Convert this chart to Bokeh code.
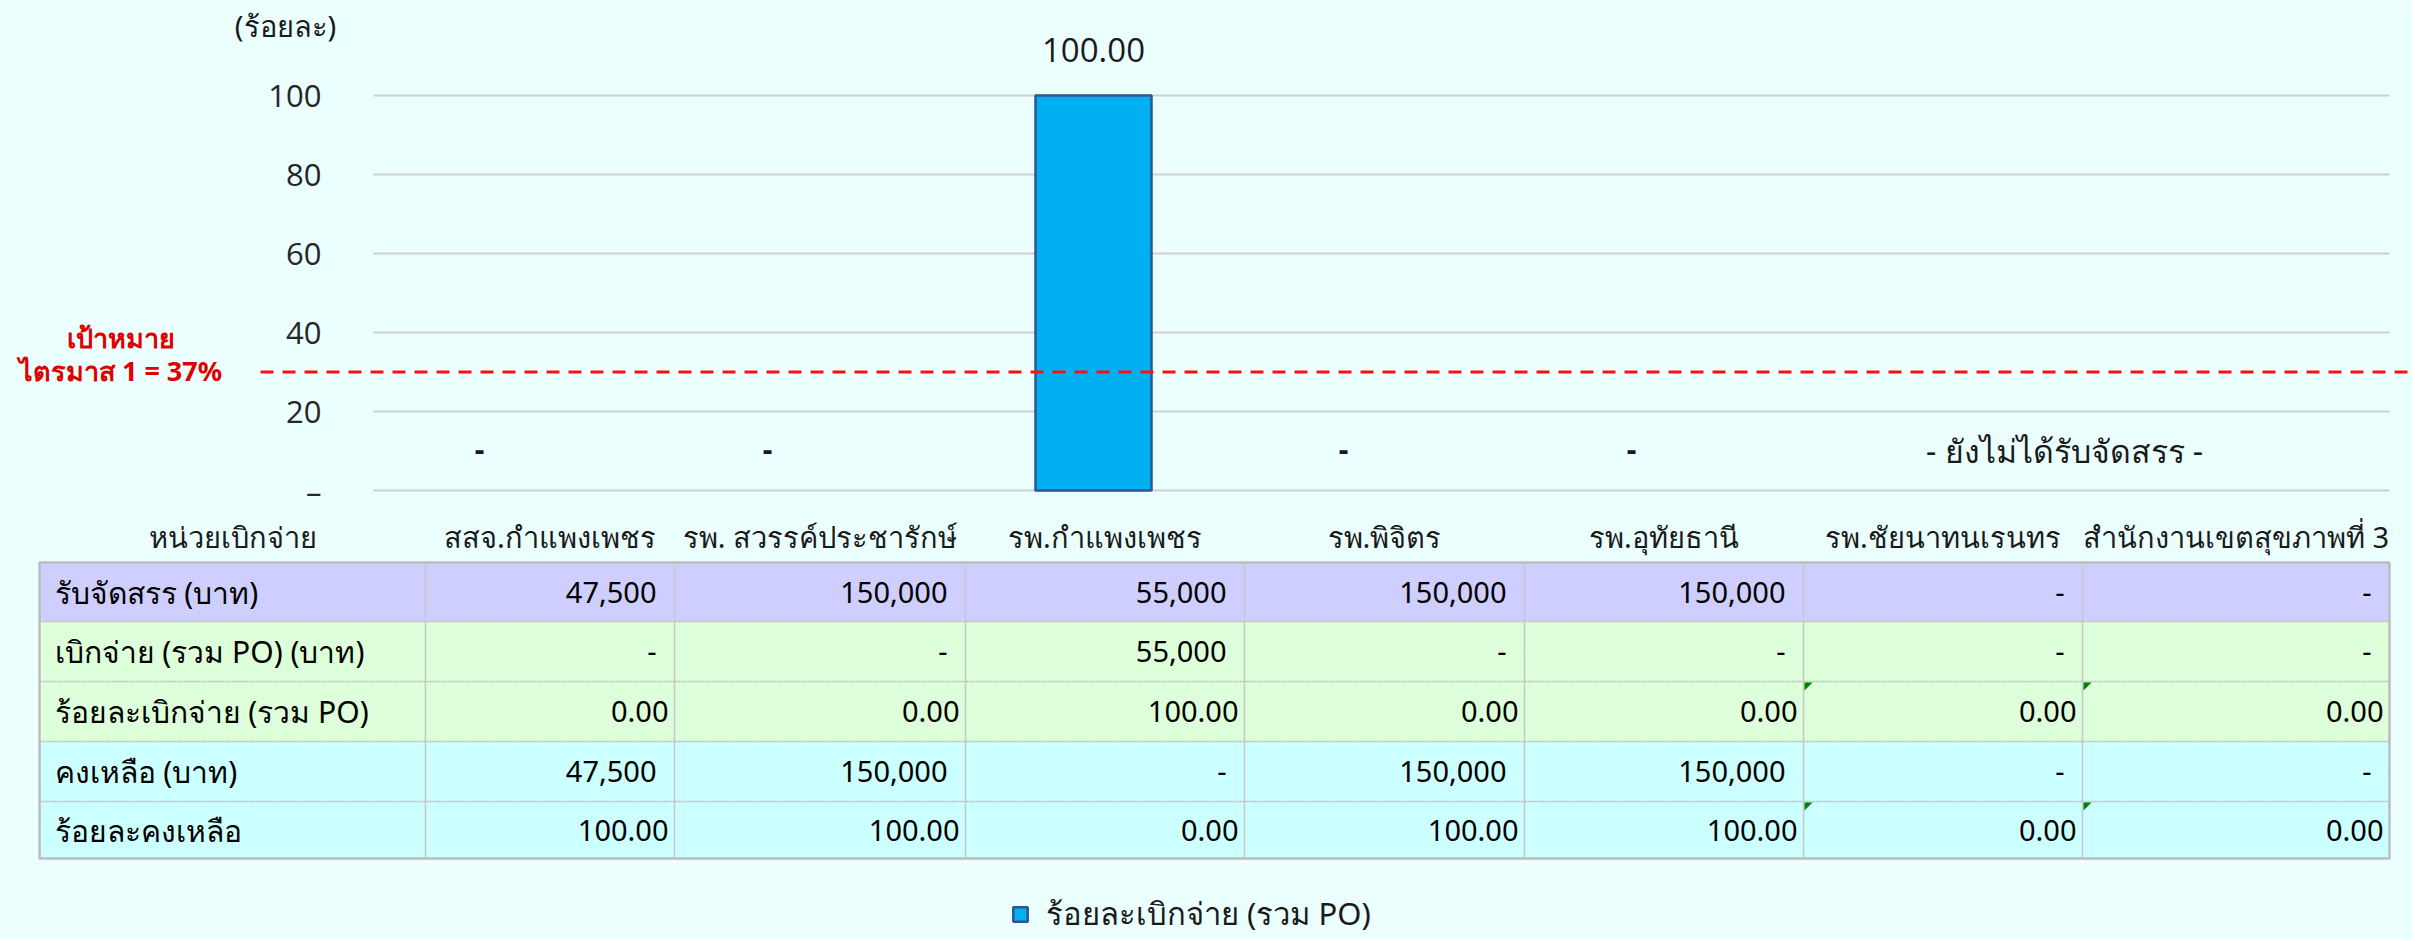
from bokeh.plotting import figure
from bokeh.models import Range1d, Legend, LegendItem, ColumnDataSource
from bokeh.core.properties import value
from bokeh.embed import file_html
from bokeh.resources import INLINE

# ---------------- data ----------------
units = ["สสจ.กำแพงเพชร", "รพ. สวรรค์ประชารักษ์", "รพ.กำแพงเพชร", "รพ.พิจิตร",
         "รพ.อุทัยธานี", "รพ.ชัยนาทนเรนทร", "สำนักงานเขตสุขภาพที่ 3"]
allocated = [47500, 150000, 55000, 150000, 150000, None, None]
disbursed = [None, None, 55000, None, None, None, None]
pct_disbursed = [0.0, 0.0, 100.0, 0.0, 0.0, 0.0, 0.0]
remaining = [47500, 150000, None, 150000, 150000, None, None]
pct_remaining = [100.0, 100.0, 0.0, 100.0, 100.0, 0.0, 0.0]
y_ticks = [0, 20, 40, 60, 80, 100]
target_line_value = 30
target_title = "เป้าหมาย"
target_text = "ไตรมาส 1 = 37%"
y_unit_label = "(ร้อยละ)"
series_name = "ร้อยละเบิกจ่าย (รวม PO)"
header_label = "หน่วยเบิกจ่าย"
row_labels = ["รับจัดสรร (บาท)", "เบิกจ่าย (รวม PO) (บาท)", "ร้อยละเบิกจ่าย (รวม PO)",
              "คงเหลือ (บาท)", "ร้อยละคงเหลือ"]
no_alloc_text = "- ยังไม่ได้รับจัดสรร -"
flag_cells = [(2, 5), (2, 6), (4, 5), (4, 6)]

# ---------------- layout (page pixels) ----------------
W, H = 2412, 939
OX, OY = 0, 0
CH_L, CH_R = 373, 2389
Y0_PX, Y100_PX = 490, 95
COL_X = [39, 425, 674, 965, 1244, 1524, 1803, 2082, 2389]
ROW_Y = [562, 621, 681, 741, 801, 858]
HEADER_Y = 536
BG = "#EBFFFF"
ROW_COLORS = ["#CFCFFF", "#DDFFD9", "#DDFFD9", "#CCFFFF", "#CCFFFF"]
TXT = "#1a1a1a"
FONT_NAME = "Noto Sans"
FONT = value(FONT_NAME)

n = len(units)
ux = (CH_R - CH_L) / n
uy = (Y0_PX - Y100_PX) / 100.0

p = figure(width=W, height=H, x_range=Range1d(OX, OX + W), y_range=Range1d(OY + H, OY),
           output_backend="svg", toolbar_location=None,
           x_axis_location=None, y_axis_location=None, min_border=0,
           outline_line_color=None, background_fill_color=BG, border_fill_color=BG)
p.extra_x_ranges = {"cx": Range1d(-0.5 - (CH_L - OX) / ux, n - 0.5 + (OX + W - CH_R) / ux)}
p.extra_y_ranges = {"cy": Range1d(-(OY + H - Y0_PX) / uy, (Y0_PX - OY) / uy)}
p.grid.visible = False

# ---------------- chart ----------------
p.segment(x0=[-0.5] * len(y_ticks), x1=[n - 0.5] * len(y_ticks), y0=y_ticks, y1=y_ticks,
          x_range_name="cx", y_range_name="cy", line_color="#D0D0D0", line_width=2)
p.text(x=[-0.5] * len(y_ticks), y=y_ticks,
       text=["–" if t == 0 else str(t) for t in y_ticks],
       x_range_name="cx", y_range_name="cy", x_offset=-52,
       text_align="right", text_baseline="middle", text_font=value("Open Sans"),
       text_font_size="31px", text_color="#262626")
p.text(x=[285], y=[25], text=[y_unit_label], text_align="center", text_baseline="middle",
       text_font=FONT, text_font_size="29px", text_color=TXT)

src = ColumnDataSource(dict(x=list(range(n)), top=pct_disbursed,
                            la=[1.0 if v > 0 else 0.0 for v in pct_disbursed]))
bar = p.vbar(x="x", top="top", width=116 / ux, source=src, x_range_name="cx", y_range_name="cy",
             fill_color="#00B0F0", line_color="#2F5597", line_width=2.5, line_alpha="la")

lab_x, lab_y, lab_t = [], [], []
dash_x = []
for i in range(n):
    if allocated[i] is None:
        continue
    if pct_disbursed[i] > 0:
        lab_x.append(i); lab_y.append(pct_disbursed[i]); lab_t.append(f"{pct_disbursed[i]:.2f}")
    else:
        dash_x.append(i)
p.text(x=lab_x, y=lab_y, text=lab_t, x_range_name="cx", y_range_name="cy", y_offset=-46,
       text_align="center", text_baseline="middle", text_font=value("Open Sans"),
       text_font_size="33px", text_color=TXT)
p.text(x=dash_x, y=[0] * len(dash_x), text=["-"] * len(dash_x), x_range_name="cx", y_range_name="cy",
       x_offset=-38, y_offset=-42, text_align="center", text_baseline="middle",
       text_font=FONT, text_font_style="bold", text_font_size="30px", text_color=TXT)
na = [i for i in range(n) if allocated[i] is None]
if na:
    p.text(x=[sum(na) / len(na)], y=[0], text=[no_alloc_text], x_range_name="cx", y_range_name="cy",
           x_offset=-37, y_offset=-40, text_align="center", text_baseline="middle",
           text_font=FONT, text_font_size="32px", text_color=TXT)

# target line + label
p.segment(x0=[260], x1=[2412], y0=[target_line_value], y1=[target_line_value], y_range_name="cy",
          line_color="#FF1010", line_width=3, line_dash="13 9")
p.text(x=[120, 120], y=[337, 370], text=[target_title, target_text], text_align="center",
       text_baseline="middle", text_font=FONT, text_font_style="bold", text_font_size="27px",
       text_color="#E00000")

# ---------------- table ----------------
def fmt_baht(v):
    return "-" if v is None else f"{v:,.0f}"

def fmt_pct(v):
    return "-" if v is None else f"{v:.2f}"

rows = [
    [fmt_baht(v) for v in allocated],
    [fmt_baht(v) for v in disbursed],
    [fmt_pct(v) for v in pct_disbursed],
    [fmt_baht(v) for v in remaining],
    [fmt_pct(v) for v in pct_remaining],
]
row_pad = [18, 18, 6, 18, 6]

ql, qr, qt, qb, qc = [], [], [], [], []
for r in range(len(rows)):
    ql.append(COL_X[0]); qr.append(COL_X[-1]); qt.append(ROW_Y[r]); qb.append(ROW_Y[r + 1])
    qc.append(ROW_COLORS[r])
p.quad(left=ql, right=qr, top=qt, bottom=qb, fill_color=qc, line_color=None)

# inner borders
p.segment(x0=[COL_X[0]] * 4, x1=[COL_X[-1]] * 4, y0=ROW_Y[1:-1], y1=ROW_Y[1:-1],
          line_color="#B8B8B8", line_width=1.5, line_dash="2 1")
p.segment(x0=COL_X[1:-1], x1=COL_X[1:-1], y0=[ROW_Y[0]] * (len(COL_X) - 2),
          y1=[ROW_Y[-1]] * (len(COL_X) - 2), line_color="#C8C8C8", line_width=1.5)
p.quad(left=[COL_X[0]], right=[COL_X[-1]], top=[ROW_Y[0]], bottom=[ROW_Y[-1]],
       fill_color=None, line_color="#BDBDBD", line_width=2.5)

# flags (green corner marks)
fx, fy = [], []
for (r, c) in flag_cells:
    x0 = COL_X[c + 1]; y0 = ROW_Y[r]
    fx.append([x0 + 1, x0 + 9, x0 + 1]); fy.append([y0 + 1, y0 + 1, y0 + 9])
p.patches(xs=fx, ys=fy, fill_color="#008000", line_color=None)

# header
hx = [(COL_X[0] + COL_X[1]) / 2] + [(COL_X[j + 1] + COL_X[j + 2]) / 2 for j in range(n)]
p.text(x=hx, y=[HEADER_Y] * len(hx), text=[header_label] + units, text_align="center",
       text_baseline="middle", text_font=FONT, text_font_size="29px", text_color=TXT)

# row labels
rc = [(ROW_Y[r] + ROW_Y[r + 1]) / 2 for r in range(len(rows))]
p.text(x=[COL_X[0] + 15] * len(rows), y=rc, text=row_labels, text_align="left",
       text_baseline="middle", text_font=FONT, text_font_size="30px", text_color="#000000")
vx, vy, vt = [], [], []
for r, row in enumerate(rows):
    for j, t in enumerate(row):
        vx.append(COL_X[j + 2] - row_pad[r]); vy.append(rc[r]); vt.append(t)
p.text(x=vx, y=vy, text=vt, text_align="right", text_baseline="middle", text_font=FONT,
       text_font_size="29px", text_color="#000000")

# ---------------- legend ----------------
legend = Legend(items=[LegendItem(label=series_name, renderers=[bar],
                                  index=pct_disbursed.index(max(pct_disbursed)))],
                location=(1011 - OX, 0), border_line_color=None, background_fill_alpha=0,
                padding=0, margin=0, glyph_width=18, glyph_height=18, label_standoff=17,
                label_text_font=FONT_NAME, label_text_font_size="31px", label_text_color=TXT)
p.add_layout(legend, "center")

open("out.html", "w").write(file_html(p, INLINE))
